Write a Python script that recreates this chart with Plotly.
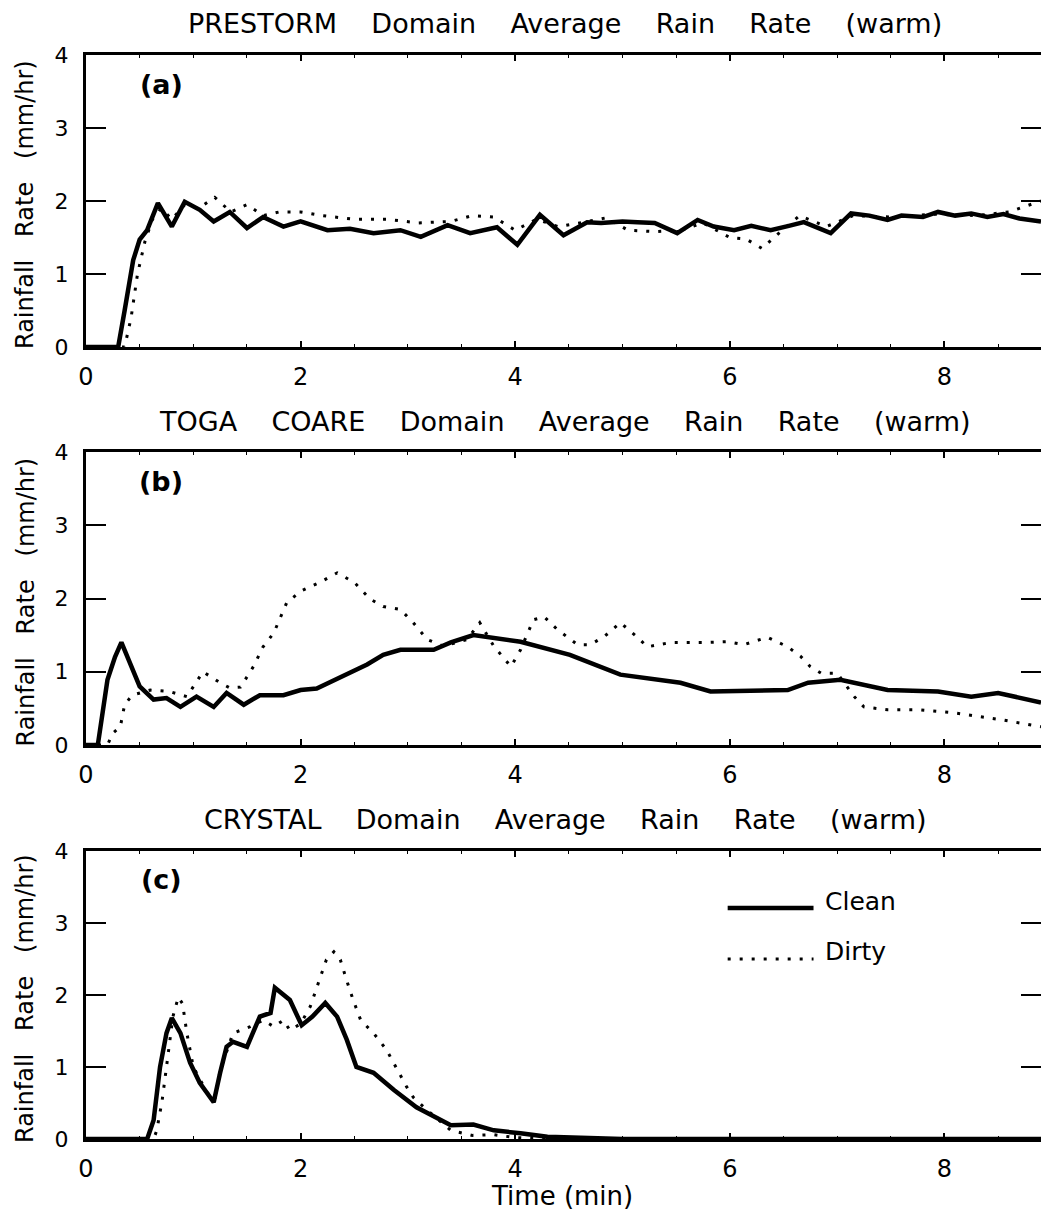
import plotly.graph_objects as go

# ---------------- data ----------------
xa_clean = [0, 0.3, 0.36, 0.44, 0.5, 0.57, 0.67, 0.8, 0.92, 1.06, 1.19, 1.34, 1.5, 1.65, 1.84, 2.0,
            2.25, 2.46, 2.68, 2.93, 3.12, 3.37, 3.58, 3.83, 4.02, 4.23, 4.45, 4.67, 4.8, 5.0, 5.14,
            5.3, 5.51, 5.7, 5.85, 6.04, 6.2, 6.38, 6.55, 6.69, 6.94, 7.13, 7.3, 7.47, 7.6, 7.8,
            7.94, 8.1, 8.25, 8.4, 8.55, 8.7, 8.9]
ya_clean = [0, 0, 0.5, 1.19, 1.47, 1.6, 1.97, 1.65, 1.99, 1.88, 1.72, 1.85, 1.63, 1.78, 1.65, 1.72,
            1.6, 1.62, 1.56, 1.6, 1.51, 1.67, 1.56, 1.64, 1.40, 1.81, 1.53, 1.71, 1.7, 1.72, 1.71,
            1.7, 1.56, 1.74, 1.65, 1.6, 1.66, 1.6, 1.66, 1.71, 1.56, 1.83, 1.8, 1.74, 1.8, 1.78,
            1.85, 1.8, 1.83, 1.78, 1.82, 1.76, 1.72]
xa_dirty = [0, 0.36, 0.42, 0.48, 0.55, 0.62, 0.7, 0.8, 0.92, 1.05, 1.2, 1.35, 1.5, 1.65, 1.8, 2.0,
            2.2, 2.5, 2.8, 3.1, 3.4, 3.6, 3.8, 4.0, 4.2, 4.4, 4.6, 4.85, 5.05, 5.3, 5.55, 5.75,
            6.0, 6.15, 6.3, 6.45, 6.65, 6.9, 7.15, 7.5, 7.9, 8.3, 8.6, 8.9]
ya_dirty = [0, 0, 0.4, 1.0, 1.45, 1.75, 1.9, 1.75, 1.95, 1.9, 2.05, 1.85, 1.95, 1.8, 1.85, 1.85,
            1.8, 1.75, 1.75, 1.7, 1.72, 1.8, 1.78, 1.6, 1.75, 1.65, 1.7, 1.77, 1.6, 1.58, 1.6, 1.7,
            1.5, 1.48, 1.35, 1.55, 1.8, 1.65, 1.8, 1.78, 1.82, 1.8, 1.85, 2.0]

xb_clean = [0, 0.11, 0.2, 0.27, 0.33, 0.41, 0.5, 0.63, 0.75, 0.88, 1.03, 1.19, 1.31, 1.47, 1.62,
            1.84, 2.0, 2.15, 2.46, 2.62, 2.77, 2.93, 3.24, 3.4, 3.61, 3.86, 4.05, 4.51, 4.98, 5.54,
            5.82, 6.54, 6.73, 7.03, 7.47, 7.94, 8.25, 8.5, 8.9]
yb_clean = [0, 0, 0.89, 1.2, 1.4, 1.12, 0.8, 0.62, 0.64, 0.52, 0.66, 0.52, 0.71, 0.55, 0.68,
            0.68, 0.75, 0.77, 0.98, 1.1, 1.23, 1.3, 1.3, 1.4, 1.5, 1.44, 1.41, 1.23, 0.96, 0.85,
            0.73, 0.75, 0.85, 0.89, 0.75, 0.73, 0.66, 0.71, 0.58]
xb_dirty = [0, 0.2, 0.25, 0.32, 0.36, 0.43, 0.6, 0.78, 0.94, 1.09, 1.25, 1.34, 1.44, 1.56, 1.65,
            1.75, 1.87, 2.0, 2.18, 2.34, 2.5, 2.65, 2.77, 2.93, 3.05, 3.18, 3.33, 3.55, 3.67, 3.8,
            3.96, 4.05, 4.17, 4.27, 4.39, 4.58, 4.7, 4.83, 4.98, 5.14, 5.23, 5.45, 5.76, 5.98,
            6.13, 6.35, 6.54, 6.66, 6.75, 6.85, 7.0, 7.16, 7.25, 7.47, 7.78, 8.09, 8.55, 8.9]
yb_dirty = [0, 0, 0.16, 0.25, 0.55, 0.68, 0.75, 0.73, 0.66, 1.0, 0.85, 0.78, 0.79, 1.07, 1.34,
            1.53, 1.94, 2.1, 2.22, 2.35, 2.22, 1.99, 1.89, 1.85, 1.67, 1.44, 1.35, 1.44, 1.67, 1.35,
            1.07, 1.3, 1.71, 1.75, 1.58, 1.37, 1.37, 1.48, 1.67, 1.47, 1.34, 1.4, 1.4, 1.41,
            1.37, 1.47, 1.34, 1.21, 1.07, 0.98, 0.98, 0.66, 0.52, 0.48, 0.48, 0.44, 0.34, 0.25]

xc_clean = [0, 0.57, 0.63, 0.69, 0.75, 0.8, 0.88, 0.97, 1.06, 1.19, 1.25, 1.31, 1.37, 1.5, 1.62,
            1.72, 1.76, 1.9, 2.01, 2.11, 2.23, 2.34, 2.43, 2.52, 2.68, 2.87, 3.08, 3.24, 3.4, 3.61,
            3.8, 4.05, 4.3, 5.0, 8.9]
yc_clean = [0, 0, 0.26, 1.0, 1.47, 1.68, 1.47, 1.06, 0.78, 0.51, 0.92, 1.28, 1.35, 1.28, 1.7,
            1.75, 2.1, 1.93, 1.58, 1.7, 1.89, 1.7, 1.38, 1.0, 0.92, 0.68, 0.44, 0.31, 0.19, 0.2,
            0.12, 0.08, 0.03, 0.0, 0.0]
xc_dirty = [0, 0.63, 0.66, 0.71, 0.75, 0.81, 0.86, 0.9, 0.94, 1.0, 1.13, 1.2, 1.25, 1.37, 1.53,
            1.65, 1.75, 1.84, 1.9, 2.0, 2.09, 2.15, 2.24, 2.31, 2.37, 2.43, 2.49, 2.56, 2.68, 2.8,
            2.9, 2.99, 3.05, 3.18, 3.4, 3.6, 3.8, 4.0, 4.3, 8.9]
yc_dirty = [0, 0, 0.12, 0.54, 1.0, 1.7, 1.97, 1.88, 1.47, 1.0, 0.64, 0.55, 0.95, 1.47, 1.56,
            1.65, 1.56, 1.65, 1.51, 1.6, 1.84, 2.11, 2.49, 2.6, 2.49, 2.2, 1.93, 1.65, 1.47, 1.24,
            0.96, 0.72, 0.58, 0.4, 0.12, 0.05, 0.06, 0.02, 0.0, 0.0]

panel_titles = ["PRESTORM Domain Average Rain Rate (warm)",
                "TOGA COARE Domain Average Rain Rate (warm)",
                "CRYSTAL Domain Average Rain Rate (warm)"]
panel_tags = ["(a)", "(b)", "(c)"]
series_names = ["Clean", "Dirty"]
x_ticks = [0, 2, 4, 6, 8]
y_ticks = [0, 1, 2, 3, 4]
x_title = "Time (min)"
y_title = "Rainfall Rate (mm/hr)"

# ---------------- layout geometry ----------------
W, H = 1041, 1222
FONT = "DejaVu Sans"
X_LEFT = 86 / W
X_RIGHT = 1.0
panels_px = [(55, 347), (452, 745), (851, 1139)]   # top, bottom (pixels)
XMAX = 8.9
SOLID_W = 4.5
DOT_DASH = "3px,9px"
DOT_W = 3


def spaced(s, n=3):
    return s.replace(" ", "\u00a0" * n)


fig = go.Figure()
data = [(xa_clean, ya_clean, xa_dirty, ya_dirty),
        (xb_clean, yb_clean, xb_dirty, yb_dirty),
        (xc_clean, yc_clean, xc_dirty, yc_dirty)]

annotations = []
for i, (xc, yc, xd, yd) in enumerate(data):
    n = "" if i == 0 else str(i + 1)
    fig.add_trace(go.Scatter(x=xd, y=yd, mode="lines", name=series_names[1],
                             line=dict(color="black", width=DOT_W, dash=DOT_DASH),
                             xaxis="x" + n, yaxis="y" + n, showlegend=False))
    fig.add_trace(go.Scatter(x=xc, y=yc, mode="lines", name=series_names[0],
                             line=dict(color="black", width=SOLID_W),
                             xaxis="x" + n, yaxis="y" + n, showlegend=False))
    top, bot = panels_px[i]
    ydom = [1 - bot / H, 1 - top / H]
    fig.layout["xaxis" + n] = dict(
        domain=[X_LEFT, X_RIGHT], range=[0, XMAX], anchor="y" + n, automargin=False,
        tickvals=x_ticks, ticks="inside", ticklen=6, tickwidth=2, tickcolor="black",
        minor=dict(dtick=0.5, tick0=0, ticks="inside", ticklen=3, tickcolor="black", tickwidth=1),
        showline=True, linewidth=3, linecolor="black", mirror="ticks",
        showgrid=False, zeroline=False,
        tickfont=dict(family=FONT, size=24, color="black"), ticklabelstandoff=6,
    )
    fig.layout["yaxis" + n] = dict(
        domain=ydom, range=[0, 4], anchor="x" + n, automargin=False,
        tickvals=y_ticks, ticks="inside", ticklen=20, tickwidth=2, tickcolor="black",
        showline=True, linewidth=3, linecolor="black", mirror="ticks",
        showgrid=False, zeroline=False,
        tickfont=dict(family=FONT, size=22, color="black"), ticklabelstandoff=10,
    )
    # panel title
    annotations.append(dict(text=spaced(panel_titles[i], 4), xref="paper", yref="paper",
                            x=565 / W, y=1 - (top - 31) / H, xanchor="center", yanchor="middle",
                            showarrow=False, font=dict(family=FONT, size=27, color="black")))
    # panel tag
    annotations.append(dict(text="<b>" + panel_tags[i] + "</b>", xref="x" + n, yref="y" + n,
                            x=0.7, y=3.6, xanchor="center", yanchor="middle", showarrow=False,
                            font=dict(family=FONT, size=27, color="black")))
    # y-axis title
    annotations.append(dict(text=spaced(y_title, 3), xref="paper", yref="paper",
                            x=25 / W, y=1 - ((top + bot) / 2 + 4) / H, textangle=-90,
                            xanchor="center", yanchor="middle", showarrow=False,
                            font=dict(family=FONT, size=24, color="black")))

# x-axis title
annotations.append(dict(text=x_title, xref="paper", yref="paper", x=562 / W, y=1 - 1196 / H,
                        xanchor="center", yanchor="middle", showarrow=False,
                        font=dict(family=FONT, size=26, color="black")))

# legend (panel c)
shapes = [
    dict(type="line", xref="x3", yref="y3", x0=5.98, x1=6.78, y0=3.21, y1=3.21,
         line=dict(color="black", width=SOLID_W)),
    dict(type="line", xref="x3", yref="y3", x0=5.98, x1=6.78, y0=2.5, y1=2.5,
         line=dict(color="black", width=DOT_W, dash=DOT_DASH)),
]
annotations.append(dict(text=series_names[0], xref="x3", yref="y3", x=6.87, y=3.3,
                        xanchor="left", yanchor="middle", showarrow=False,
                        font=dict(family=FONT, size=25, color="black")))
annotations.append(dict(text=series_names[1], xref="x3", yref="y3", x=6.87, y=2.6,
                        xanchor="left", yanchor="middle", showarrow=False,
                        font=dict(family=FONT, size=25, color="black")))

fig.update_layout(width=W, height=H, margin=dict(l=0, r=0, t=0, b=0, autoexpand=False),
                  paper_bgcolor="white", plot_bgcolor="white",
                  annotations=annotations, shapes=shapes, showlegend=False,
                  font=dict(family=FONT, color="black"))

fig.write_html("out.html", config={"displayModeBar": False},
               post_script="document.body.style.margin='0px';"
                           "document.body.style.overflow='hidden';")
